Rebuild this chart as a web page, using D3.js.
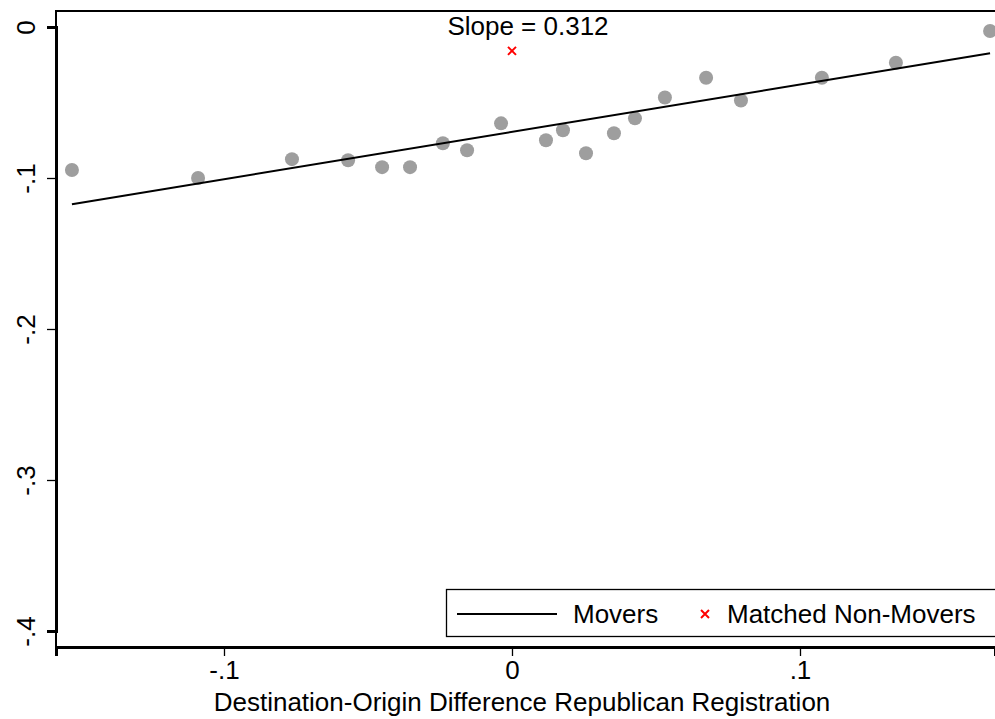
<!DOCTYPE html>
<html><head><meta charset="utf-8">
<script src="https://cdn.jsdelivr.net/npm/d3@7"></script>
<style>body{margin:0;background:#fff}svg{font-family:"Liberation Sans",Arial,sans-serif}</style>
</head><body><svg id="chart" width="995" height="719"></svg>
<script>
const binX = [-0.1528,-0.109,-0.0764,-0.0569,-0.0451,-0.0354,-0.024,-0.0156,-0.0038,0.0118,0.0177,0.0257,0.0354,0.0427,0.0531,0.0674,0.0795,0.1076,0.1333,0.166];
const binY = [-0.0947,-0.100,-0.0875,-0.0882,-0.0928,-0.0928,-0.0770,-0.0816,-0.0638,-0.0750,-0.0684,-0.0836,-0.0704,-0.0605,-0.0467,-0.0336,-0.0487,-0.0336,-0.0237,-0.0026];
const fitX = [-0.1528, 0.166];
const fitY = [-0.1174, -0.0174];
const nonMover = {x: 0, y: -0.0158};
const xTicks = [-0.1, 0, 0.1];
const yTicks = [0, -0.1, -0.2, -0.3, -0.4];
const tickFmt = d => d === 0 ? "0" : (d < 0 ? "-" : "") + String(Math.abs(+d.toFixed(1))).replace("0.", ".");

const m = {left: 56, right: 0, top: 11, bottom: 72};
const W = 995, H = 719;
const FS = 26;
const svg = d3.select("#chart");

const x = d3.scaleLinear().domain([-0.15833, 0.16771]).range([m.left, W]);
const y = d3.scaleLinear().domain([0, -0.4]).range([27, 631]);

// frame
svg.append("path")
  .attr("d", `M${m.left},${H - m.bottom}V${m.top}H${W}`)
  .attr("fill", "none").attr("stroke", "#000").attr("stroke-width", 2);

const xa = svg.append("g").attr("transform", `translate(0,${H - m.bottom})`)
  .call(d3.axisBottom(x).tickValues(xTicks).tickFormat(tickFmt).tickSize(9).tickPadding(5));
const ya = svg.append("g").attr("transform", `translate(${m.left},0)`)
  .call(d3.axisLeft(y).tickValues(yTicks).tickFormat(tickFmt).tickSize(9));
[xa, ya].forEach(a => {
  a.attr("font-size", FS).attr("font-family", "Liberation Sans, Arial, sans-serif");
  a.select(".domain").attr("stroke-width", 3);
  a.selectAll(".tick line").attr("stroke-width", 1.3);
  a.selectAll("text").attr("fill", "#000");
});
ya.selectAll(".tick text").attr("transform", "rotate(-90)")
  .attr("x", 0).attr("y", -30).attr("dy", "0.35em").attr("text-anchor", "middle");

svg.append("text").attr("x", 522).attr("y", 711)
  .attr("text-anchor", "middle").attr("font-size", FS)
  .text("Destination-Origin Difference Republican Registration");

// points
svg.selectAll("circle.bin").data(binX).enter().append("circle")
  .attr("class", "bin")
  .attr("cx", (d) => x(d)).attr("cy", (d, i) => y(binY[i]))
  .attr("r", 7).attr("fill", "#9e9e9e");

// fit line
svg.append("line")
  .attr("x1", x(fitX[0])).attr("y1", y(fitY[0]))
  .attr("x2", x(fitX[1])).attr("y2", y(fitY[1]))
  .attr("stroke", "#000").attr("stroke-width", 2);

function cross(g, cx, cy, s) {
  g.append("path").attr("d", `M${cx-s},${cy-s}L${cx+s},${cy+s}M${cx-s},${cy+s}L${cx+s},${cy-s}`)
    .attr("stroke", "#ff0000").attr("stroke-width", 2);
}
cross(svg, x(nonMover.x), y(nonMover.y), 4);

svg.append("text").attr("x", x(nonMover.x) + 16).attr("y", 35)
  .attr("text-anchor", "middle").attr("font-size", FS).text("Slope = 0.312");

// legend
const lg = svg.append("g");
lg.append("rect").attr("x", 446.5).attr("y", 589.5).attr("width", 560).attr("height", 47)
  .attr("fill", "#fff").attr("stroke", "#000").attr("stroke-width", 1.3);
lg.append("line").attr("x1", 457).attr("x2", 557).attr("y1", 614).attr("y2", 614)
  .attr("stroke", "#000").attr("stroke-width", 2);
lg.append("text").attr("x", 573).attr("y", 623).attr("font-size", FS).text("Movers");
cross(lg, 705, 614, 4);
lg.append("text").attr("x", 727).attr("y", 623).attr("font-size", FS).text("Matched Non-Movers");
</script></body></html>
